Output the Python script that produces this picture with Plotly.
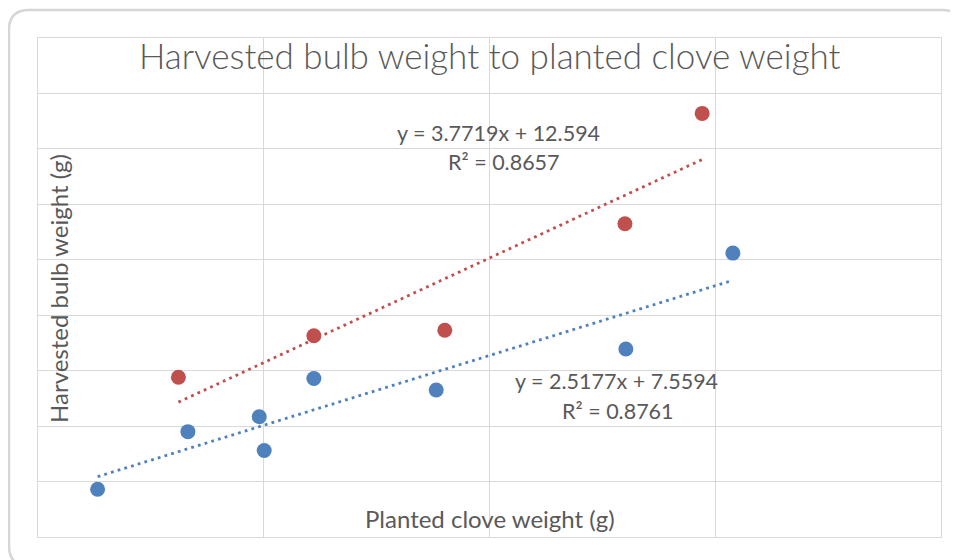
import numpy as np
import plotly.graph_objects as go

# ---- data ----
blue_x = [1.32, 3.32, 4.90, 5.01, 6.11, 8.82, 13.02, 15.39]
blue_y = [8.6, 19.0, 21.7, 15.6, 28.6, 26.5, 33.9, 51.2]
red_x = [3.11, 6.11, 9.01, 13.00, 14.71]
red_y = [28.8, 36.3, 37.3, 56.5, 76.4]

blue_fit = [2.5177, 7.5594]   # slope, intercept
red_fit = [3.7719, 12.594]
blue_r2 = "0.8761"
red_r2 = "0.8657"

title_text = "Harvested bulb weight to planted clove weight"
x_title = "Planted clove weight (g)"
y_title = "Harvested bulb weight (g)"

BLUE = "#4F81BD"
RED = "#C0504D"
GRID = "#D9D9D9"
TXT = "#595959"
FONT = "Lato"

# page body has an 8px default margin; compensate
OFF = 8
W, H = 958 - OFF, 560 - OFF
L, R, T, B = 38 - OFF, 941 - OFF, 38 - OFF, 537 - OFF
pw, ph = R - L, B - T


def px(x):
    return (x - OFF - L) / pw


def py(y):
    return (B - (y - OFF)) / ph


fig = go.Figure()

# trendlines
for xs, fit, col in [(blue_x, blue_fit, BLUE), (red_x, red_fit, RED)]:
    tx = np.array([min(xs), max(xs)])
    ty = fit[0] * tx + fit[1]
    fig.add_trace(go.Scatter(x=tx, y=ty, mode="lines",
                             line=dict(color=col, width=2.8, dash="2.8px,4.2px"),
                             hoverinfo="skip", showlegend=False))

fig.add_trace(go.Scatter(x=blue_x, y=blue_y, mode="markers",
                         marker=dict(color=BLUE, size=15), showlegend=False))
fig.add_trace(go.Scatter(x=red_x, y=red_y, mode="markers",
                         marker=dict(color=RED, size=15), showlegend=False))

axis_common = dict(showticklabels=False, showgrid=True, gridcolor=GRID,
                   gridwidth=1, zeroline=False, showline=True, mirror=True,
                   linecolor=GRID, linewidth=1, ticks="", fixedrange=True)

fig.update_xaxes(range=[0, 20], dtick=5, tick0=0, **axis_common)
fig.update_yaxes(range=[0, 90], dtick=10, tick0=0, **axis_common)

# card outline (rounded rectangle)
x0, x1 = px(9), px(962)
y0, y1 = py(566), py(10)
rx = 20 / pw
ry = 20 / ph
path = (f"M {x0+rx},{y1} L {x1-rx},{y1} Q {x1},{y1} {x1},{y1-ry} "
        f"L {x1},{y0+ry} Q {x1},{y0} {x1-rx},{y0} L {x0+rx},{y0} "
        f"Q {x0},{y0} {x0},{y0+ry} L {x0},{y1-ry} Q {x0},{y1} {x0+rx},{y1} Z")
fig.add_shape(type="path", path=path, xref="paper", yref="paper",
              line=dict(color="#D6D6D6", width=2.5), layer="below")

annotations = [
    dict(text=title_text, x=px(490), y=py(55),
         font=dict(size=35, color=TXT, family=FONT, weight=300)),
    dict(text=x_title, x=px(490), y=py(518),
         font=dict(size=24, color=TXT, family=FONT)),
    dict(text=y_title, x=px(58), y=py(289), textangle=-90,
         font=dict(size=24, color=TXT, family=FONT)),
    dict(text=f"y = {red_fit[0]}x + {red_fit[1]}", x=px(498.5), y=py(133),
         font=dict(size=21.5, color=TXT, family=FONT)),
    dict(text=f"R² = {red_r2}", x=px(504), y=py(162),
         font=dict(size=21.5, color=TXT, family=FONT)),
    dict(text=f"y = {blue_fit[0]}x + {blue_fit[1]}", x=px(616.5), y=py(381),
         font=dict(size=21.5, color=TXT, family=FONT)),
    dict(text=f"R² = {blue_r2}", x=px(618), y=py(411),
         font=dict(size=21.5, color=TXT, family=FONT)),
]
for a in annotations:
    a.update(xref="paper", yref="paper", showarrow=False,
             xanchor="center", yanchor="middle")

fig.update_layout(
    width=W, height=H,
    margin=dict(l=L, r=W - R, t=T, b=H - B),
    paper_bgcolor="white", plot_bgcolor="white",
    annotations=annotations,
    showlegend=False,
)

fig.write_html("out.html")
